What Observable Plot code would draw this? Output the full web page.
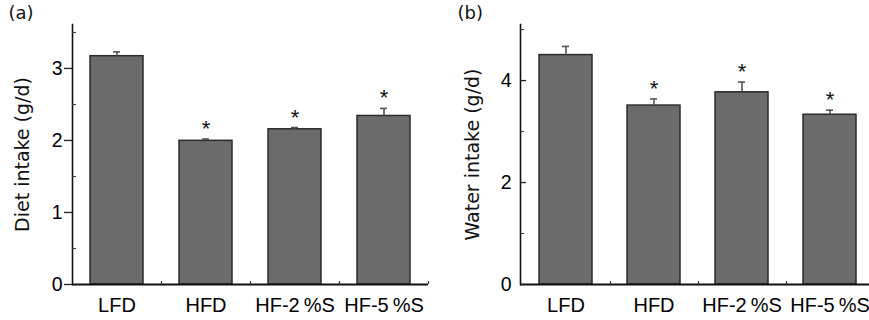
<!DOCTYPE html>
<html>
<head>
<meta charset="utf-8">
<script src="https://cdn.jsdelivr.net/npm/d3@7"></script>
<script src="https://cdn.jsdelivr.net/npm/@observablehq/plot@0.6"></script>
<style>
  html, body { margin: 0; padding: 0; background: #fff; overflow: hidden; }
  #wrap { position: relative; width: 869px; height: 320px; overflow: hidden; }
  #a, #b { position: absolute; top: 0; }
  #a { left: 0; }
  #b { left: 440px; }
  svg { max-width: none !important; }
</style>
</head>
<body>
<div id="wrap"><div id="a"></div><div id="b"></div></div>
<script>
// ---- data ----
const categories = ["LFD", "HFD", "HF-2\u2009%S", "HF-5\u2009%S"];
const dietMean = [3.17, 1.995, 2.155, 2.34];
const dietErr = [0.06, 0.025, 0.025, 0.105];
const waterMean = [4.50, 3.51, 3.77, 3.33];
const waterErr = [0.17, 0.13, 0.20, 0.09];
const significant = [false, true, true, true];
const dietTicks = [0, 1, 2, 3];
const dietMinor = [0.5, 1.5, 2.5, 3.5];
const waterTicks = [0, 2, 4];
const waterMinor = [1, 3, 5];

const rows = (means, errs) => categories.map((c, i) => ({
  cat: c, mean: means[i], top: means[i] + errs[i], sig: significant[i]
}));

const tickFont = "Liberation Sans, Arial, sans-serif";
const labelFont = "DejaVu Sans, sans-serif";

function panel({data, yMax, ticks, minor, yLabel, tag, width, marginLeft, marginRight, majorInside, labelDx, tagDx}) {
  const majorAxis = majorInside
    ? [Plot.axisY({ticks, tickSize: -6, text: null, stroke: "#222", strokeWidth: 1.3}),
       Plot.axisY({ticks, tickSize: 0, tickPadding: 9, tickFormat: d => String(d), fontSize: 19.5, fontFamily: tickFont, fill: "#000", label: null})]
    : [Plot.axisY({ticks, tickSize: 8, tickPadding: 2, tickFormat: d => String(d), fontSize: 19.5, fontFamily: tickFont, fill: "#000", stroke: "#222", strokeWidth: 1.3, label: null})];
  return Plot.plot({
    width, height: 320,
    marginLeft, marginRight, marginTop: 24, marginBottom: 36,
    style: {background: "transparent", overflow: "visible"},
    x: {domain: categories, paddingInner: 0.4, paddingOuter: 0.2, label: null},
    y: {domain: [0, yMax], label: null},
    marks: [
      Plot.barY(data, {x: "cat", y: "mean", fill: "#6b6b6b", stroke: "#2b2b2b", strokeWidth: 1.5}),
      Plot.ruleX(data, {x: "cat", y1: "mean", y2: "top", stroke: "#555", strokeWidth: 1.6}),
      Plot.tickY(data, {x: "cat", y: "top", stroke: "#555", strokeWidth: 1.6, insetLeft: 23, insetRight: 23}),
      Plot.text(data.filter(d => d.sig), {x: "cat", y: "top", text: () => "*", dy: -10, fontSize: 22, fontFamily: tickFont, fill: "#111"}),
      Plot.ruleY([0], {stroke: "#111", strokeWidth: 2}),
      Plot.frame({anchor: "left", stroke: "#111", strokeWidth: 1.6}),
      ...majorAxis,
      Plot.axisY({ticks: minor, tickSize: -4, text: null, stroke: "#333", strokeWidth: 1}),
      Plot.axisX({tickSize: 0, tickPadding: 13, fontSize: 20, fontFamily: tickFont, fill: "#000", label: null}),
      Plot.axisX({tickSize: -3, dx: 44.5, text: null, stroke: "#333", strokeWidth: 1.2}),
      Plot.text([yLabel], {frameAnchor: "left", textAnchor: "middle", lineAnchor: "middle", rotate: -90, dx: labelDx, fontSize: 19, fontFamily: labelFont, fill: "#111"}),
      Plot.text([tag], {frameAnchor: "top-left", textAnchor: "start", lineAnchor: "top", dx: tagDx, dy: -18, fontSize: 18, fontFamily: labelFont, fill: "#111"})
    ]
  });
}

document.getElementById("a").appendChild(panel({
  data: rows(dietMean, dietErr), yMax: 3.61, ticks: dietTicks, minor: dietMinor,
  yLabel: "Diet intake (g/d)", tag: "(a)", width: 436, marginLeft: 72, marginRight: 8,
  majorInside: false, labelDx: -50, tagDx: -64
}));
document.getElementById("b").appendChild(panel({
  data: rows(waterMean, waterErr), yMax: 5.1, ticks: waterTicks, minor: waterMinor,
  yLabel: "Water intake (g/d)", tag: "(b)", width: 440, marginLeft: 80, marginRight: 4.8,
  majorInside: true, labelDx: -48, tagDx: -63
}));
</script>
</body>
</html>
